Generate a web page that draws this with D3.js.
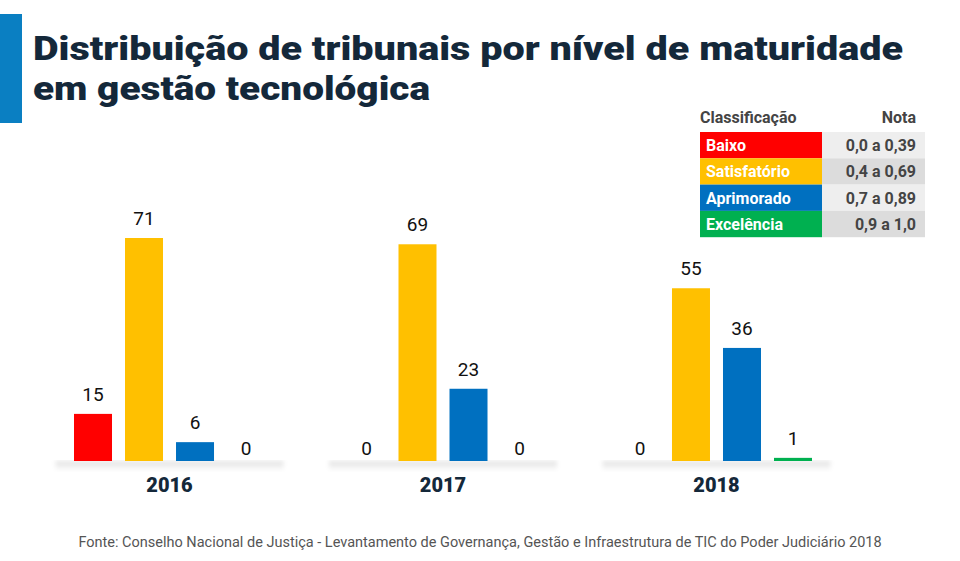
<!DOCTYPE html><html><head><meta charset="utf-8"><script src="https://d3js.org/d3.v7.min.js"></script>
<style>body{margin:0;background:#fff}</style></head><body><svg id="c" width="960" height="561"></svg>
<script>
const years=["2016","2017","2018"];
const levels=["Baixo","Satisfatório","Aprimorado","Excelência"];
const notas=["0,0 a 0,39","0,4 a 0,69","0,7 a 0,89","0,9 a 1,0"];
const colors=["#ff0000","#ffc000","#0070c0","#00b050"];
const values={"2016":[15,71,6,0],"2017":[0,69,23,0],"2018":[0,55,36,1]};
const svg=d3.select("#c");
const F="Roboto, sans-serif";
svg.append("rect").attr("x",0).attr("y",14).attr("width",22).attr("height",109).attr("fill","#0a7fc2");
["Distribuição de tribunais por nível de maturidade","em gestão tecnológica"].forEach((t,i)=>{
 const e=svg.append("text").attr("x",33).attr("y",60+i*40).attr("font-family",F).attr("font-weight",900)
 .attr("font-size",33).attr("fill","#14283a").text(t);
 if(i==0)e.attr("textLength",870).attr("lengthAdjust","spacingAndGlyphs");
 else e.attr("textLength",397).attr("lengthAdjust","spacingAndGlyphs");
});
const x0=d3.scaleBand().domain(years).range([67.5,818.5]).paddingInner(0.254);
const x1=d3.scaleBand().domain(d3.range(4)).range([0,x0.bandwidth()]).paddingInner(0.255).paddingOuter(0.1275);
const y=d3.scaleLinear().domain([0,71]).range([461,238]);
const defs=svg.append("defs");
const g=defs.append("linearGradient").attr("id","sh").attr("x1",0).attr("x2",0).attr("y1",0).attr("y2",1);
g.append("stop").attr("offset",0).attr("stop-color","#000").attr("stop-opacity",0.12);
g.append("stop").attr("offset",1).attr("stop-color","#000").attr("stop-opacity",0);
const fl=defs.append("filter").attr("id","bl");fl.append("feGaussianBlur").attr("stdDeviation",2);
years.forEach(yr=>{
 const gx=svg.append("g").attr("transform",`translate(${x0(yr)},0)`);
 gx.append("rect").attr("x",-12).attr("y",461).attr("width",x0.bandwidth()+24).attr("height",10).attr("fill","url(#sh)").attr("filter","url(#bl)");
 values[yr].forEach((v,i)=>{
  gx.append("rect").attr("x",x1(i)).attr("y",y(v)).attr("width",x1.bandwidth()).attr("height",461-y(v)).attr("fill",colors[i]);
  gx.append("text").attr("x",x1(i)+x1.bandwidth()/2).attr("y",v==0?y(v)-6:y(v)-13).attr("text-anchor","middle")
   .attr("font-family",F).attr("font-size",19).attr("fill","#111").text(v);
 });
 svg.append("text").attr("x",x0(yr)+x0.bandwidth()/2).attr("y",492).attr("text-anchor","middle").attr("font-family",F)
  .attr("font-weight",900).attr("font-size",20).attr("fill","#14283a").text(yr);
});
// legend
const lg=svg.append("g");
lg.append("text").attr("x",700).attr("y",123).attr("font-family",F).attr("font-weight",700).attr("font-size",16).attr("fill","#444").text("Classificação");
lg.append("text").attr("x",916).attr("y",123).attr("text-anchor","end").attr("font-family",F).attr("font-weight",700).attr("font-size",16).attr("fill","#444").text("Nota");
levels.forEach((l,i)=>{
 const yy=132+i*26.3;
 lg.append("rect").attr("x",700).attr("y",yy).attr("width",122).attr("height",26.3).attr("fill",colors[i]);
 lg.append("rect").attr("x",822).attr("y",yy).attr("width",103).attr("height",26.3).attr("fill",i%2?"#dcdcdc":"#eeeeee");
 lg.append("text").attr("x",706).attr("y",yy+19).attr("font-family",F).attr("font-weight",700).attr("font-size",16).attr("fill","#fff").text(l);
 lg.append("text").attr("x",916).attr("y",yy+19).attr("text-anchor","end").attr("font-family",F).attr("font-weight",700).attr("font-size",16).attr("fill","#444").text(notas[i]);
});
svg.append("text").attr("x",480).attr("y",547).attr("text-anchor","middle").attr("font-family",F).attr("font-size",14.5).attr("fill","#555")
 .text("Fonte: Conselho Nacional de Justiça - Levantamento de Governança, Gestão e Infraestrutura de TIC do Poder Judiciário 2018");
</script></body></html>
